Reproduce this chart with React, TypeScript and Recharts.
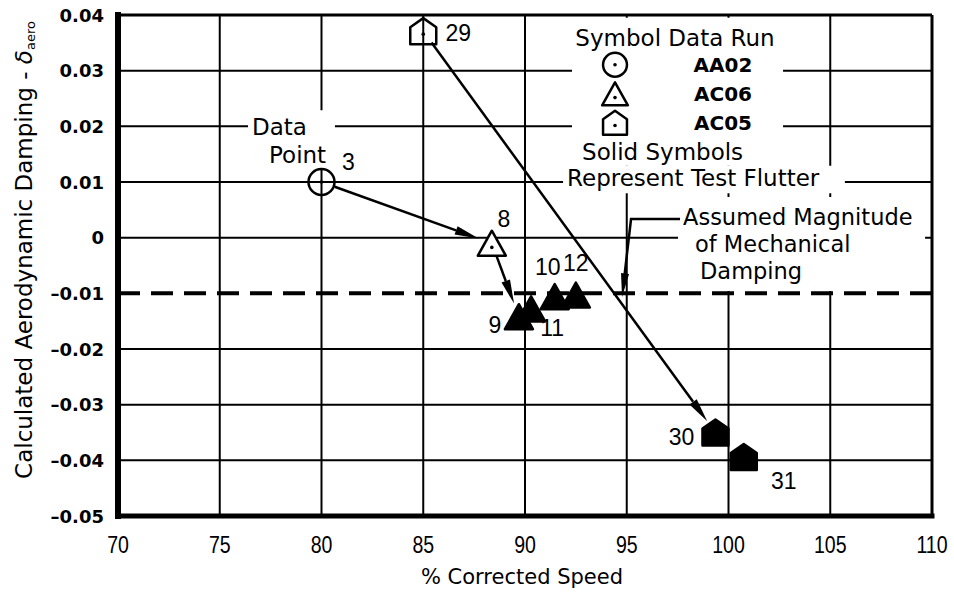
import React from "react";
import {
  ScatterChart,
  Scatter,
  XAxis,
  YAxis,
  ReferenceLine,
  ReferenceArea,
} from "recharts";

type Pt = { id: number; speed: number; damping: number; flutter: boolean };

// data (% corrected speed, calculated aero damping)
const runAA02: Pt[] = [{ id: 3, speed: 80.0, damping: 0.01, flutter: false }];

const runAC06: Pt[] = [
  { id: 8, speed: 88.37, damping: -0.001, flutter: false },
  { id: 9, speed: 89.7, damping: -0.0142, flutter: true },
  { id: 11, speed: 90.3, damping: -0.0128, flutter: true },
  { id: 10, speed: 91.46, damping: -0.0106, flutter: true },
  { id: 12, speed: 92.5, damping: -0.0103, flutter: true },
];

const runAC05: Pt[] = [
  { id: 29, speed: 85.0, damping: 0.0371, flutter: false },
  { id: 30, speed: 99.36, damping: -0.035, flutter: true },
  { id: 31, speed: 100.75, damping: -0.0394, flutter: true },
];

// arrows between data points (from id -> to id)
const arrows: [number, number][] = [
  [3, 8],
  [8, 9],
  [29, 30],
];

const mechanicalDamping = -0.01;

const xTicks = [70, 75, 80, 85, 90, 95, 100, 105, 110];
const yTicks = [-0.05, -0.04, -0.03, -0.02, -0.01, 0, 0.01, 0.02, 0.03, 0.04];
const xGrid = [75, 80, 85, 90, 95, 100, 105];
const yGrid = [0.03, 0.02, 0.01, 0, -0.02, -0.03, -0.04];

// where each point number sits relative to its symbol (px)
const labelOffset: Record<number, [number, number]> = {
  3: [27, -20],
  8: [12, -24],
  29: [35, 2],
  10: [-7, -30],
  12: [0, -32],
  9: [-24, 8],
  11: [21, 19],
  30: [-34, 4],
  31: [40, 24],
};

const ANNOT = "'DejaVu Sans', sans-serif";
const HELV = "'Liberation Sans', Arial, sans-serif";

const allPoints = [...runAA02, ...runAC06, ...runAC05];
const byId = (id: number) => allPoints.find((p) => p.id === id)!;

function Symbol({ cx, cy, kind, filled, dot = true, scale = 1 }: any) {
  const fill = filled ? "#000" : kind === "triangle" ? "#fff" : "none";
  if (kind === "circle") {
    const r = 13 * scale;
    return (
      <g>
        <circle cx={cx} cy={cy} r={r} fill="none" stroke="#000" strokeWidth={2.5} />
        {dot && <circle cx={cx} cy={cy} r={1.8} fill="#000" />}
      </g>
    );
  }
  if (kind === "triangle") {
    const w = 28 * scale;
    const h = 25 * scale;
    const pts = `${cx},${cy - h / 2} ${cx + w / 2},${cy + h / 2} ${cx - w / 2},${cy + h / 2}`;
    return (
      <g>
        <polygon points={pts} fill={fill} stroke="#000" strokeWidth={2.5} strokeLinejoin="round" />
        {dot && !filled && <circle cx={cx} cy={cy + h / 6} r={1.8} fill="#000" />}
      </g>
    );
  }
  const w = 26 * scale;
  const h = 26 * scale;
  const pts = `${cx},${cy - h / 2} ${cx + w / 2},${cy - h * 0.15} ${cx + w / 2},${cy + h / 2} ${cx - w / 2},${cy + h / 2} ${cx - w / 2},${cy - h * 0.15}`;
  return (
    <g>
      <polygon points={pts} fill={fill} stroke="#000" strokeWidth={2.5} strokeLinejoin="round" />
      {dot && !filled && <circle cx={cx} cy={cy + 3 * scale} r={1.8} fill="#000" />}
    </g>
  );
}

function PointMark(props: any) {
  const { cx, cy, payload, kind } = props;
  const [dx, dy] = labelOffset[payload.id] || [15, -15];
  return (
    <g>
      <Symbol cx={cx} cy={cy} kind={kind} filled={payload.flutter} />
      <text
        x={cx + dx}
        y={cy + dy}
        textAnchor="middle"
        dominantBaseline="central"
        fontFamily={HELV}
        fontSize={23}
        fill="#000"
      >
        {payload.id}
      </text>
    </g>
  );
}

function Arrow(props: any) {
  const { x1, y1, x2, y2 } = props;
  const dx = x2 - x1;
  const dy = y2 - y1;
  const len = Math.hypot(dx, dy);
  const ux = dx / len;
  const uy = dy / len;
  const sx = x1 + ux * 14;
  const sy = y1 + uy * 14;
  const ex = x2 - ux * 14;
  const ey = y2 - uy * 14;
  const bx = ex - ux * 24;
  const by = ey - uy * 24;
  const px = -uy * 4.5;
  const py = ux * 4.5;
  return (
    <g>
      <line x1={sx} y1={sy} x2={bx} y2={by} stroke="#000" strokeWidth={2.5} />
      <polygon points={`${ex},${ey} ${bx + px},${by + py} ${bx - px},${by - py}`} fill="#000" />
    </g>
  );
}

const fmtY = (v: number) => (v === 0 ? "0" : v.toFixed(2).replace("-", "\u2013"));

const YTick = (p: any) => (
  <text
    x={p.x}
    y={p.y}
    textAnchor="end"
    dominantBaseline="central"
    fontFamily={ANNOT}
    fontWeight="bold"
    fontSize={18}
    fill="#000"
  >
    {fmtY(p.payload.value)}
  </text>
);

const XTick = (p: any) => (
  <g transform={`translate(${p.x},${p.y + 21})`}>
    <text
      transform="scale(0.85,1)"
      textAnchor="middle"
      dominantBaseline="central"
      fontFamily={HELV}
      fontSize={23}
      fill="#000"
    >
      {p.payload.value}
    </text>
  </g>
);

const txt = { fontFamily: ANNOT, fontSize: 23, fill: "#000", dominantBaseline: "central" } as any;

const LegendBox = ({ viewBox }: any) => {
  const { x, y } = viewBox;
  const rows = [
    { kind: "circle", name: "AA02" },
    { kind: "triangle", name: "AC06" },
    { kind: "house", name: "AC05" },
  ];
  return (
    <g>
      <text {...txt} x={x + 103} y={y + 20} textAnchor="middle">
        Symbol Data Run
      </text>
      {rows.map((r, i) => (
        <g key={r.name}>
          <Symbol cx={x + 43} cy={y + 47 + i * 29} kind={r.kind} filled={false} scale={0.92} />
          <text
            {...txt}
            x={x + 151}
            y={y + 47 + i * 29}
            textAnchor="middle"
            fontWeight="bold"
            fontSize={20}
          >
            {r.name}
          </text>
        </g>
      ))}
    </g>
  );
};

const SolidBox = ({ viewBox }: any) => (
  <text {...txt} x={viewBox.x + 6} y={viewBox.y + 14}>
    Solid Symbols
  </text>
);

const RepresentBox = ({ viewBox }: any) => (
  <text {...txt} x={viewBox.x + 4} y={viewBox.y + 12}>
    Represent Test Flutter
  </text>
);

const DataPointBox = ({ viewBox }: any) => (
  <g>
    <text {...txt} x={viewBox.x + 4} y={viewBox.y + 17}>
      Data
    </text>
    <text {...txt} x={viewBox.x + 21} y={viewBox.y + 45}>
      Point
    </text>
  </g>
);

const AssumedBox = ({ viewBox }: any) => {
  const { x, y } = viewBox;
  const cx = x - 47;
  const tx = x - 56;
  const ty = y + 100;
  return (
    <g>
      <text {...txt} fontSize={22.5} x={x + 5} y={y + 20}>
        Assumed Magnitude
      </text>
      <text {...txt} fontSize={22.5} x={x + 17} y={y + 47}>
        of Mechanical
      </text>
      <text {...txt} fontSize={22.5} x={x + 22} y={y + 74}>
        Damping
      </text>
      <polyline
        points={`${x + 2},${y + 22} ${cx},${y + 22} ${tx + 2.5},${ty - 22}`}
        fill="none"
        stroke="#000"
        strokeWidth={2.5}
      />
      <polygon points={`${tx},${ty} ${tx - 1},${ty - 24} ${tx + 7},${ty - 23}`} fill="#000" />
    </g>
  );
};

export default function App() {
  return (
    <div style={{ position: "absolute", left: 0, top: 0, width: 954, height: 592, background: "#fff" }}>
      <ScatterChart width={954} height={592} margin={{ top: 15, right: 22, bottom: 0, left: 0 }}>
        <XAxis
          type="number"
          dataKey="speed"
          domain={[70, 110]}
          ticks={xTicks}
          height={76}
          tickLine={false}
          axisLine={{ stroke: "#000", strokeWidth: 5, strokeLinecap: "square" }}
          tick={<XTick />}
          label={{
            content: (lp: any) => (
              <text
                x={lp.viewBox.x + lp.viewBox.width / 2 - 3}
                y={lp.viewBox.y + 61}
                textAnchor="middle"
                dominantBaseline="central"
                fontFamily={ANNOT}
                fontSize={21}
                fill="#000"
              >
                % Corrected Speed
              </text>
            ),
          }}
        />
        <YAxis
          type="number"
          dataKey="damping"
          domain={[-0.05, 0.04]}
          ticks={yTicks}
          width={118}
          tickLine={false}
          tickMargin={8}
          axisLine={{ stroke: "#000", strokeWidth: 6, strokeLinecap: "square" }}
          tick={<YTick />}
          label={{
            content: () => (
              <text
                x={24}
                y={250}
                transform="rotate(-90, 24, 250)"
                textAnchor="middle"
                dominantBaseline="central"
                fontFamily={ANNOT}
                fontSize={23}
                fill="#000"
              >
                Calculated Aerodynamic Damping -{" "}
                <tspan fontStyle="italic">δ</tspan>
                <tspan fontSize={13} dy={6}>
                  aero
                </tspan>
              </text>
            ),
          }}
        />

        {/* grid */}
        {xGrid.map((v) => (
          <ReferenceLine key={`gx${v}`} x={v} stroke="#000" strokeWidth={2} zIndex={10} />
        ))}
        {yGrid.map((v) => (
          <ReferenceLine key={`gy${v}`} y={v} stroke="#000" strokeWidth={2} zIndex={10} />
        ))}

        {/* white text boxes over the grid */}
        <ReferenceArea x1={92.31} x2={102.68} y1={0.0179} y2={0.0395} fill="#fff" fillOpacity={1} stroke="none" zIndex={20} label={LegendBox} />
        <ReferenceArea x1={92.51} x2={100.74} y1={0.0129} y2={0.0179} fill="#fff" fillOpacity={1} stroke="none" zIndex={20} label={SolidBox} />
        <ReferenceArea x1={91.87} x2={105.72} y1={0.008} y2={0.0129} fill="#fff" fillOpacity={1} stroke="none" zIndex={20} label={RepresentBox} />
        <ReferenceArea x1={76.39} x2={80.66} y1={0.0122} y2={0.0229} fill="#fff" fillOpacity={1} stroke="none" zIndex={20} label={DataPointBox} />
        <ReferenceArea x1={97.52} x2={109.66} y1={-0.0096} y2={0.0073} fill="#fff" fillOpacity={1} stroke="none" zIndex={20} label={AssumedBox} />

        {/* mechanical damping */}
        <ReferenceLine y={mechanicalDamping} stroke="#000" strokeWidth={4} strokeDasharray="22 11" zIndex={30} />

        {/* frame */}
        <ReferenceLine y={0.04} stroke="#000" strokeWidth={3} zIndex={40} />
        <ReferenceLine x={110} stroke="#000" strokeWidth={3} zIndex={40} />

        {arrows.map(([a, b]) => {
          const p = byId(a);
          const q = byId(b);
          return (
            <ReferenceLine
              key={`ar${a}-${b}`}
              segment={[
                { x: p.speed, y: p.damping },
                { x: q.speed, y: q.damping },
              ]}
              stroke="#000"
              zIndex={450}
              shape={(sp: any) => <Arrow {...sp} />}
            />
          );
        })}

        <Scatter
          name="AA02"
          data={runAA02}
          isAnimationActive={false}
          shape={(p: any) => <PointMark {...p} kind="circle" />}
        />
        <Scatter
          name="AC06"
          data={runAC06}
          isAnimationActive={false}
          shape={(p: any) => <PointMark {...p} kind="triangle" />}
        />
        <Scatter
          name="AC05"
          data={runAC05}
          isAnimationActive={false}
          shape={(p: any) => <PointMark {...p} kind="house" />}
        />
      </ScatterChart>
    </div>
  );
}
